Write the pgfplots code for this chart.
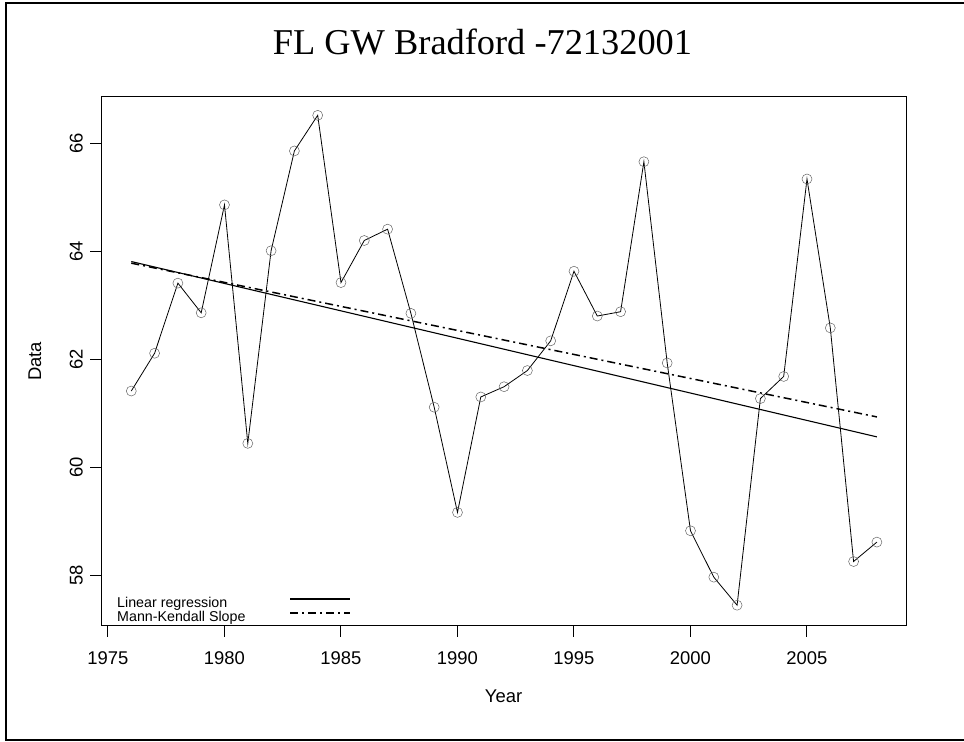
\documentclass[border=0pt]{standalone}
\usepackage{fontspec}
\setmainfont{Liberation Sans}
\newfontfamily\titlefont{Liberation Serif}
\usepackage{graphicx}
\usepackage{pgfplots}
\pgfplotsset{compat=1.18}
\begin{document}
\begin{tikzpicture}[x=1bp,y=1bp]
\useasboundingbox (0,0) rectangle (964,742);
\draw[line width=1.6bp] (6,2) rectangle (970,739);
\node[anchor=base, font=\titlefont\fontsize{36.5}{36.5}\selectfont, inner sep=0pt] at (482.5,687) {FL GW Bradford -72132001};
\begin{axis}[
  at={(101bp,116bp)}, anchor=south west,
  width=805bp, height=529bp, scale only axis,
  xmin=1974.7, xmax=2009.25, ymin=57.055, ymax=66.86,
  axis line style={line width=1bp},
  xtick={1975,1980,...,2005}, ytick={58,60,...,66},
  xtick pos=left, ytick pos=left,
  tick align=outside, major tick length=11bp,
  tick style={black, line width=1bp},
  /pgf/number format/assume math mode=true,
  /pgf/number format/1000 sep={},
  xticklabel style={font=\fontsize{18.5}{18.5}\selectfont, anchor=north, inner sep=0pt},
  xticklabel shift=14bp,
  yticklabel={\rotatebox{90}{\pgfmathprintnumber{\tick}}},
  yticklabel style={font=\fontsize{18.5}{18.5}\selectfont, anchor=east, inner sep=0pt},
  yticklabel shift=7bp,
  xlabel={Year}, ylabel={Data},
  every axis x label/.style={at={(axis description cs:0.5,-0.145)}, anchor=base,
    font=\fontsize{18.5}{18.5}\selectfont, inner sep=0pt},
  every axis y label/.style={at={(axis description cs:-0.0745,0.5)}, rotate=90, anchor=base,
    font=\fontsize{18.5}{18.5}\selectfont, inner sep=0pt},
  legend style={draw=none, fill=none, at={(rel axis cs:0.0199,0.001)}, anchor=south west,
    inner sep=0pt, row sep=0pt, font=\fontsize{14.3}{14.3}\selectfont,
    nodes={inner sep=0pt, text height=10.5bp, text depth=3.5bp}},
  legend cell align=left,
  legend plot pos=right,
  legend image code/.code={\path (0bp,5.3bp); \draw[#1] (44bp,5.3bp) -- (104bp,5.3bp);},
]
\addplot[black, line width=0.8bp, mark=o, mark size=5bp,
  mark options={draw=black!60, line width=0.5bp, solid}, forget plot] coordinates {
(1976,61.41) (1977,62.11) (1978,63.41) (1979,62.86) (1980,64.86)
(1981,60.44) (1982,64.01) (1983,65.86) (1984,66.52) (1985,63.42)
(1986,64.20) (1987,64.41) (1988,62.85) (1989,61.11) (1990,59.16)
(1991,61.30) (1992,61.49) (1993,61.79) (1994,62.34) (1995,63.63)
(1996,62.80) (1997,62.88) (1998,65.66) (1999,61.93) (2000,58.82)
(2001,57.96) (2002,57.44) (2003,61.27) (2004,61.68) (2005,65.34)
(2006,62.58) (2007,58.25) (2008,58.61)
};
\addplot[black, line width=1.1bp] coordinates {(1976,63.81) (2008,60.56)};
\addlegendentry{Linear regression}
\addplot[black, line width=1.5bp, dash pattern=on 8bp off 4bp on 2bp off 4bp] coordinates {(1976,63.78) (2008,60.93)};
\addlegendentry{Mann-Kendall Slope}
\end{axis}
\end{tikzpicture}
\end{document}
